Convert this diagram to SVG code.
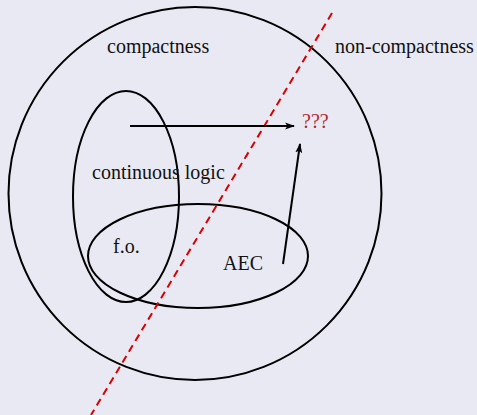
<svg xmlns="http://www.w3.org/2000/svg" width="477" height="415" viewBox="0 0 477 415">
<style>
.shape{fill:none;stroke:#000;stroke-width:2}
.lbl{font-family:"Liberation Serif","Times New Roman",serif;font-size:20px;fill:#111}
.q{fill:#b3262b}
.arrow{stroke:#000;stroke-width:2;fill:none}
.div{stroke:#d90000;stroke-width:2;stroke-dasharray:7.5,5;fill:none}
</style>
<defs>
<marker id="ah" viewBox="0 0 10 8" refX="9" refY="4" markerWidth="10" markerHeight="8" markerUnits="userSpaceOnUse" orient="auto">
<path d="M0,0.5 L10,4 L0,7.5 L2.5,4 Z" fill="#000"/>
</marker>
</defs>
<rect width="477" height="415" fill="#e9e9f3"/>
<g id="compactness">
<circle class="shape" cx="195" cy="193.5" r="186.5"/>
<text class="lbl" x="107" y="53">compactness</text>
</g>
<g id="non-compactness">
<text class="lbl" x="335" y="53">non-compactness</text>
</g>
<g id="continuous-logic">
<ellipse class="shape" cx="126" cy="196.5" rx="53" ry="105.5"/>
<text class="lbl" x="92" y="179">continuous logic</text>
</g>
<g id="aec">
<ellipse class="shape" cx="198" cy="256" rx="110" ry="52"/>
<text class="lbl" x="223" y="270">AEC</text>
</g>
<g id="fo">
<text class="lbl" x="113" y="253">f.o.</text>
</g>
<g id="unknown">
<text class="lbl q" x="302" y="128">???</text>
</g>
<g id="connectors">
<line class="div" x1="332" y1="13" x2="91" y2="415"/>
<line class="arrow" x1="130" y1="126" x2="294" y2="126" marker-end="url(#ah)"/>
<line class="arrow" x1="283" y1="264" x2="300" y2="144" marker-end="url(#ah)"/>
</g>
</svg>
